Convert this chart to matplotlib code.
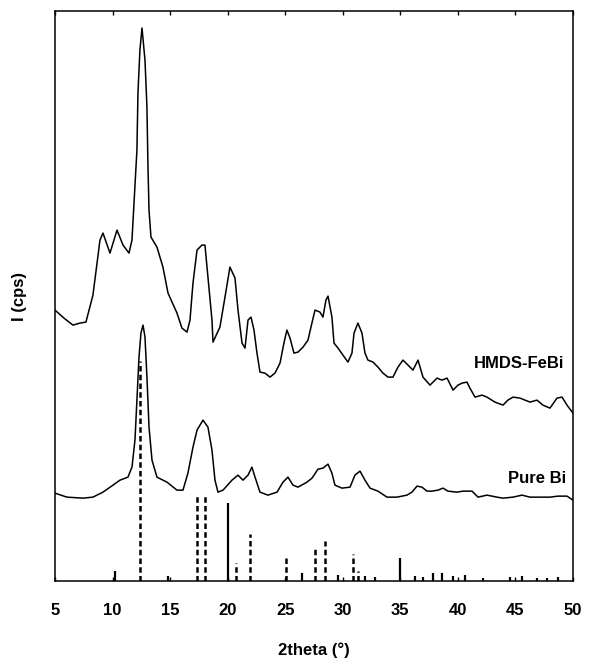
import matplotlib
matplotlib.use("Agg")
import matplotlib.pyplot as plt
import numpy as np

plt.rcParams['font.family'] = ['Liberation Sans', 'DejaVu Sans']

# ── HMDS-FeBi pattern (2theta in deg, intensity a.u.) ─────────────────────────
hmds_2theta = [5.00, 5.78, 6.56, 7.17, 7.69, 8.30, 8.91, 9.17, 9.78, 10.39,
               10.91, 11.43, 11.69, 12.12, 12.21, 12.38, 12.56, 12.82, 12.99, 13.08,
               13.17, 13.34, 13.86, 14.38, 14.82, 15.60, 16.03, 16.47, 16.73, 16.99,
               17.34, 17.77, 18.03, 18.29, 18.64, 18.73, 19.33, 19.77, 20.20, 20.64,
               20.90, 21.25, 21.51, 21.77, 22.03, 22.29, 22.55, 22.81, 23.24, 23.68,
               24.11, 24.55, 24.89, 25.15, 25.42, 25.76, 26.11, 26.55, 26.98, 27.24,
               27.59, 28.02, 28.28, 28.54, 28.72, 29.06, 29.24, 29.59, 30.02, 30.45,
               30.80, 30.98, 31.32, 31.67, 31.93, 32.19, 32.63, 33.06, 33.49, 33.93,
               34.36, 34.80, 35.23, 35.67, 36.10, 36.54, 36.97, 37.58, 38.19, 38.62,
               39.06, 39.58, 40.01, 40.36, 40.79, 41.05, 41.49, 42.09, 42.53, 43.22,
               43.92, 44.35, 44.79, 45.40, 46.27, 46.87, 47.39, 48.00, 48.61, 49.05,
               49.48, 50.00]
hmds_int = [271, 263, 256, 258, 259, 286, 341, 348, 328, 351,
            336, 328, 341, 431, 488, 531, 553, 521, 474, 414,
            371, 344, 334, 314, 288, 268, 253, 249, 261, 298,
            331, 336, 336, 304, 261, 239, 254, 284, 314, 303,
            271, 238, 233, 261, 264, 251, 228, 209, 208, 204,
            208, 218, 238, 251, 243, 228, 229, 234, 241, 254,
            271, 269, 264, 281, 285, 264, 238, 233, 226, 219,
            228, 248, 258, 248, 228, 221, 219, 214, 208, 204,
            204, 214, 221, 216, 211, 221, 204, 196, 203, 201,
            203, 191, 196, 198, 199, 193, 184, 186, 184, 179,
            176, 181, 184, 183, 179, 181, 176, 173, 183, 184,
            176, 168]

# ── Pure Bi pattern ───────────────────────────────────────────────────────────
bi_2theta = [5.00, 6.04, 7.43, 8.30, 9.17, 10.04, 10.65, 11.34, 11.69, 11.95,
             12.12, 12.30, 12.47, 12.65, 12.82, 12.99, 13.17, 13.43, 13.86, 14.73,
             15.60, 16.12, 16.55, 16.99, 17.34, 17.86, 18.29, 18.64, 18.90, 19.16,
             19.60, 20.38, 20.90, 21.33, 21.77, 22.11, 22.38, 22.81, 23.50, 24.29,
             24.81, 25.24, 25.68, 26.11, 26.89, 27.33, 27.85, 28.28, 28.72, 29.06,
             29.32, 29.93, 30.63, 31.06, 31.50, 31.93, 32.37, 33.06, 33.84, 34.71,
             35.58, 36.01, 36.45, 36.88, 37.32, 37.75, 38.27, 38.71, 39.14, 39.92,
             40.45, 41.23, 41.75, 42.53, 43.40, 43.92, 44.79, 45.57, 46.27, 47.13,
             48.00, 48.70, 49.48, 50.00]
bi_int = [88, 84, 83, 84, 89, 96, 101, 104, 114, 141,
          181, 224, 248, 256, 244, 204, 154, 121, 104, 99,
          91, 91, 108, 134, 151, 161, 154, 131, 101, 89,
          91, 101, 106, 101, 106, 114, 104, 89, 86, 89,
          99, 104, 96, 94, 99, 103, 112, 113, 117, 108,
          96, 93, 94, 106, 110, 101, 93, 90, 84, 84,
          86, 89, 95, 94, 90, 90, 91, 93, 90, 89,
          90, 90, 84, 86, 84, 83, 84, 86, 84, 84,
          84, 85, 85, 81]

# ── Reference stick patterns ──────────────────────────────────────────────────
ref_dashed_pos = [12.38, 17.34, 18.03, 20.72, 21.94, 25.07, 27.59, 28.46, 30.89, 31.32]
ref_dashed_int = [220, 85, 86, 18, 47, 25, 32, 40, 27, 10]

ref_solid_pos = [10.21, 14.82, 20.03, 26.46, 29.59, 31.93, 32.80, 34.97, 36.27, 36.97,
                 37.84, 38.62, 39.58, 40.62, 42.18, 44.53, 45.57, 46.87, 47.74, 48.70]
ref_solid_int = [10, 5, 78, 8, 6, 5, 4, 23, 5, 4,
                 8, 8, 5, 6, 3, 4, 5, 3, 3, 4]

x_ticks = [5, 10, 15, 20, 25, 30, 35, 40, 45, 50]

fig = plt.figure(figsize=(5.91, 6.68), dpi=100)
ax = fig.add_axes([0.093, 0.130, 0.8765, 0.8535])

ax.plot(hmds_2theta, hmds_int, color='black', lw=1.1)
ax.plot(bi_2theta, bi_int, color='black', lw=1.1)

ax.vlines(ref_dashed_pos, 0, ref_dashed_int, colors='black', lw=1.8,
          linestyles=(0, (2.2, 1.3)))
ax.vlines(ref_solid_pos, 0, ref_solid_int, colors='black', lw=1.6)

ax.text(49.2, 218, 'HMDS-FeBi', ha='right', va='center',
        fontsize=12, fontweight='bold')
ax.text(49.4, 103, 'Pure Bi', ha='right', va='center',
        fontsize=12, fontweight='bold')

ax.set_xlim(5, 50)
ax.set_ylim(0, 570)
ax.set_xticks(x_ticks)
ax.set_yticks([])
ax.tick_params(axis='x', direction='in', top=True, bottom=True, length=3,
               width=1, pad=16, labelsize=12)
for lab in ax.get_xticklabels():
    lab.set_fontweight('bold')
for sp in ax.spines.values():
    sp.set_linewidth(1.1)

ax.set_xlabel('2theta (°)', fontsize=12, fontweight='bold', labelpad=17)
ax.set_ylabel('I (cps)', fontsize=12, fontweight='bold', labelpad=20)

fig.savefig('out.png', dpi=100)
